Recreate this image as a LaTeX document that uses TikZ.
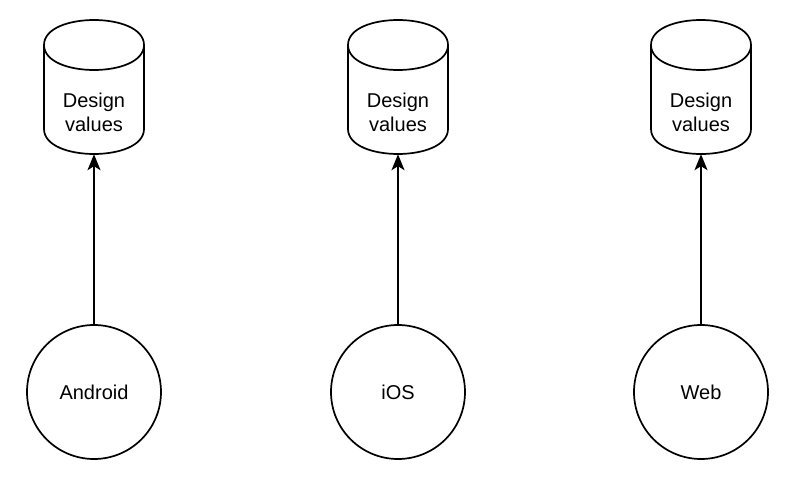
\documentclass[tikz,border=0pt]{standalone}
\usepackage{fontspec}
\setmainfont{Liberation Sans}
\usetikzlibrary{arrows.meta}
\tikzset{
  lw/.style={line width=1.7pt, black},
  platform/.style={circle, draw, lw, minimum size=134pt, inner sep=0pt, font=\fontsize{20}{24}\selectfont},
  cyltext/.style={align=center, inner sep=0pt, font=\fontsize{20}{24}\selectfont},
  cylbox/.style={minimum width=100pt, minimum height=134pt, inner sep=0pt},
  link/.style={lw, -{Stealth[length=16pt, width=13pt, inset=4pt]}}
}
\newcommand\mycyl[3]{%
  % #1 name, #2 center x, #3 top y
  \node[cylbox] (#1) at (#2,#3+67) {};
  \draw[lw] (#2-50,#3+25) .. controls (#2-50,#3-8.33) and (#2+50,#3-8.33) .. (#2+50,#3+25)
     .. controls (#2+50,#3+58.33) and (#2-50,#3+58.33) .. (#2-50,#3+25) -- cycle;
  \draw[lw] (#2-50,#3+25) -- (#2-50,#3+109)
     .. controls (#2-50,#3+142.33) and (#2+50,#3+142.33) .. (#2+50,#3+109) -- (#2+50,#3+25);
  \node[cyltext] (#1t) at (#2,#3+92) {Design\\values};
}
\begin{document}
\begin{tikzpicture}[x=1pt,y=-1pt]
\useasboundingbox (0,0) rectangle (800,479);
\mycyl{c1}{94}{20}
\mycyl{c2}{398}{20}
\mycyl{c3}{701}{20}
\node[platform] (p1) at (94,392) {Android};
\node[platform] (p2) at (398,392) {iOS};
\node[platform] (p3) at (701,392) {Web};
\draw[link] (p1.north) -- (c1.south);
\draw[link] (p2.north) -- (c2.south);
\draw[link] (p3.north) -- (c3.south);
\end{tikzpicture}
\end{document}
